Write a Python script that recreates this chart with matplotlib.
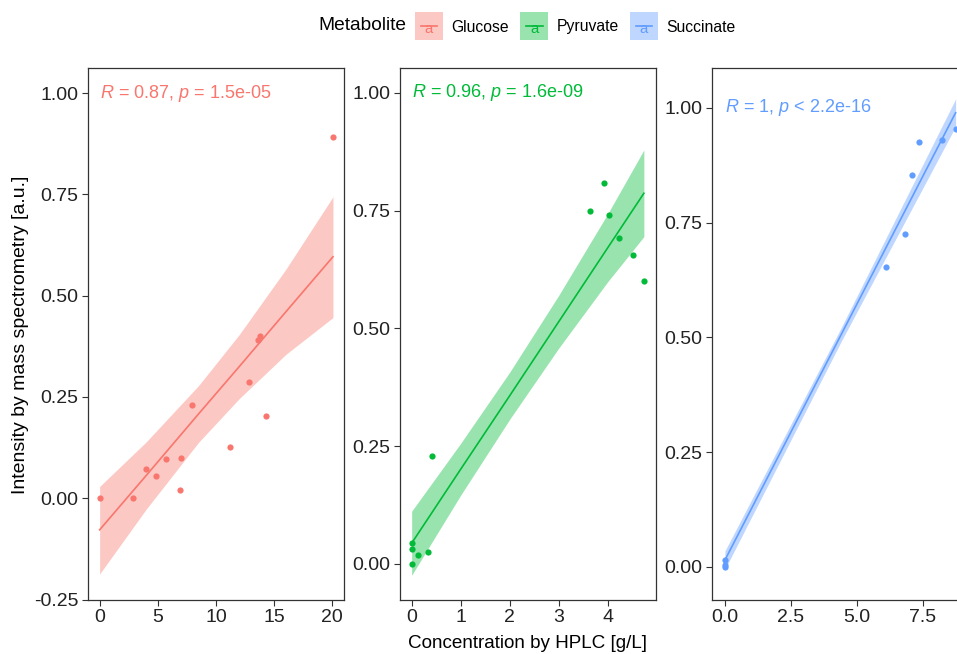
import matplotlib
matplotlib.use("Agg")
import matplotlib.pyplot as plt
from matplotlib.legend_handler import HandlerBase
from matplotlib.patches import Rectangle
from matplotlib.lines import Line2D
from matplotlib.text import Text

plt.rcParams['font.family'] = ['Liberation Sans', 'DejaVu Sans']
plt.rcParams['mathtext.fontset'] = 'custom'
plt.rcParams['mathtext.rm'] = 'Liberation Sans'
plt.rcParams['mathtext.it'] = 'Liberation Sans:italic'

metabolites = ["Glucose", "Pyruvate", "Succinate"]
colors = ["#F8766D", "#00BA38", "#619CFF"]
labels = [r"$\it{R}$ = 0.87, $\it{p}$ = 1.5e-05",
          r"$\it{R}$ = 0.96, $\it{p}$ = 1.6e-09",
          r"$\it{R}$ = 1, $\it{p}$ < 2.2e-16"]

# measured points (HPLC g/L vs MS intensity)
glc_x = [0, 2.89, 3.95, 4.86, 5.72, 6.98, 6.87, 7.93, 11.24, 12.8, 14.3, 13.6, 13.8, 20.05]
glc_y = [0, 0, 0.072, 0.054, 0.097, 0.099, 0.021, 0.229, 0.126, 0.288, 0.204, 0.39, 0.40, 0.892]
pyr_x = [3.65, 3.92, 4.03, 4.24, 4.52, 4.74, 0.41, 0.01, 0.01, 0.0, 0.14, 0.34]
pyr_y = [0.749, 0.808, 0.741, 0.692, 0.656, 0.601, 0.229, 0.045, 0.032, 0.0, 0.019, 0.025]
suc_x = [0.0, 0.0, 0.01, 6.11, 6.84, 7.08, 7.35, 8.22, 8.75]
suc_y = [0.0, 0.005, 0.015, 0.653, 0.725, 0.854, 0.926, 0.930, 0.954]

# regression line and confidence band
glc_fx = [0, 4, 8.5, 12, 16, 20.05]
glc_fy = [-0.078, 0.056, 0.208, 0.325, 0.460, 0.596]
glc_lo = [-0.187, -0.027, 0.138, 0.246, 0.355, 0.446]
glc_hi = [0.029, 0.139, 0.278, 0.404, 0.565, 0.744]
pyr_fx = [0, 1, 2, 3, 4, 4.74]
pyr_fy = [0.044, 0.201, 0.357, 0.514, 0.671, 0.787]
pyr_lo = [-0.024, 0.146, 0.307, 0.458, 0.599, 0.695]
pyr_hi = [0.112, 0.256, 0.407, 0.570, 0.743, 0.879]
suc_fx = [0, 4.4, 8.75]
suc_fy = [0.015, 0.505, 0.989]
suc_lo = [-0.005, 0.490, 0.959]
suc_hi = [0.035, 0.520, 1.019]

xs = [glc_x, pyr_x, suc_x]
ys = [glc_y, pyr_y, suc_y]
fxs = [glc_fx, pyr_fx, suc_fx]
fys = [glc_fy, pyr_fy, suc_fy]
los = [glc_lo, pyr_lo, suc_lo]
his = [glc_hi, pyr_hi, suc_hi]

xlims = [(-1, 21), (-0.2375, 4.9875), (-0.49, 9.22)]
ylims = [(-0.249, 1.062), (-0.0754, 1.053), (-0.0708, 1.0864)]
xticks = [[0, 5, 10, 15, 20], [0, 1, 2, 3, 4], [0, 2.5, 5, 7.5]]
xfmt = ["%d", "%d", "%.1f"]
yticks = [[-0.25, 0, 0.25, 0.5, 0.75, 1.0], [0, 0.25, 0.5, 0.75, 1.0], [0, 0.25, 0.5, 0.75, 1.0]]

W, H = 957, 654
fig = plt.figure(figsize=(W / 100, H / 100), dpi=100)
lefts = [88, 400, 712]
top, bottom = 68, 599.5

for i in range(3):
    ax = fig.add_axes([lefts[i] / W, (H - bottom) / H, 256 / W, (bottom - top) / H])
    c = colors[i]
    ax.fill_between(fxs[i], los[i], his[i], color=c, alpha=0.4, lw=0, zorder=1)
    ax.plot(fxs[i], fys[i], color=c, lw=1.2, zorder=2)
    ax.scatter(xs[i], ys[i], s=20, color=c, lw=0, zorder=3)
    ax.text(0, 1.0, labels[i], color=c, fontsize=13, ha='left', va='center')
    ax.set_xlim(xlims[i])
    ax.set_ylim(ylims[i])
    ax.set_xticks(xticks[i])
    ax.set_xticklabels([xfmt[i] % t for t in xticks[i]])
    ax.set_yticks(yticks[i])
    ax.set_yticklabels(["%.2f" % t for t in yticks[i]])
    ax.tick_params(labelsize=14, length=4, width=0.8, pad=3, color='#333333', labelcolor='#222222')
    for sp in ax.spines.values():
        sp.set_color('#333333')
        sp.set_linewidth(0.9)

fig.text(21 / W, 1 - 335 / H, "Intensity by mass spectrometry [a.u.]", rotation=90,
         ha='center', va='center', fontsize=14)
fig.text(527 / W, 1 - 644 / H, "Concentration by HPLC [g/L]", ha='center', va='center', fontsize=13.6)


class KeyHandler(HandlerBase):
    def create_artists(self, legend, orig, xd, yd, w, h, fontsize, trans):
        c = orig.get_color()
        cy = -yd + h / 2
        rect = Rectangle((-xd, cy - w / 2), w, w, facecolor=c, alpha=0.4, edgecolor='none', transform=trans)
        ln = Line2D([-xd + 0.2 * w, -xd + 0.8 * w], [cy, cy], color=c, lw=1.2, transform=trans)
        txt = Text(-xd + w / 2, cy - 0.12 * w, 'a', color=c, ha='center', va='center',
                   fontsize=fontsize * 0.95, transform=trans)
        return [rect, ln, txt]


handles = [Line2D([], [], color=c) for c in colors]
fig.text(318 / W, 1 - 26 / H, "Metabolite", ha='left', va='center', fontsize=13.8)
fig.legend(handles, metabolites, handler_map={Line2D: KeyHandler()}, loc='center left',
           bbox_to_anchor=(415 / W, 1 - 27 / H), ncol=3, frameon=False, fontsize=11.3,
           handlelength=1.78, handletextpad=0.55, columnspacing=0.7, borderpad=0,
           borderaxespad=0)

fig.savefig("out.png", dpi=100)
